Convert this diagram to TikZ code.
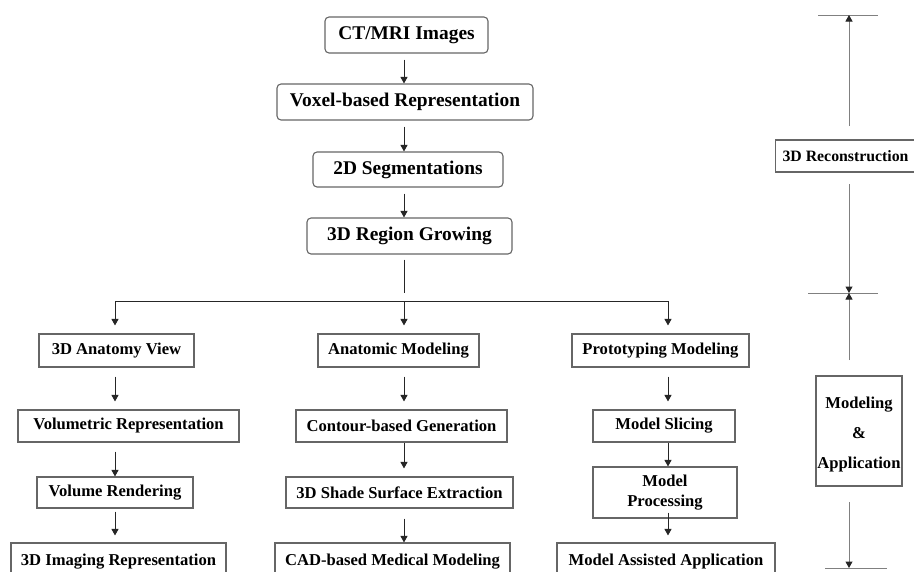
\documentclass[tikz,border=0pt]{standalone}
\usepackage{fontspec}
\setmainfont{Liberation Serif}
\usetikzlibrary{arrows.meta}
\begin{document}
\begin{tikzpicture}[x=1pt,y=-1pt,
  box/.style={draw=black!60, line width=1.1pt, inner sep=0pt, font=\bfseries\fontsize{16.6}{20}\selectfont, align=center},
  topbox/.style={box, rounded corners=4pt, font=\bfseries\fontsize{19.4}{22}\selectfont},
  flow/.style={draw=black!85, line width=1pt, -{Triangle[width=7pt,length=6.5pt]}},
  bus/.style={draw=black!85, line width=1pt},
  span/.style={draw=black!50, line width=1pt, -{Triangle[width=7pt,length=6.5pt,color=black!85]}},
  tick/.style={draw=black!50, line width=1pt}]
\path[use as bounding box, clip] (0,0) rectangle (914,571);
\fill[white] (0,0) rectangle (914,571);

% column axes for the connectors
\coordinate (spine) at (404,0);
\coordinate (colA) at (115,0);
\coordinate (colB) at (404,0);
\coordinate (colC) at (668,0);

% main pipeline
\node[topbox, minimum width=163pt, minimum height=36pt] (ct)    at (406.5,35)  {CT/MRI Images};
\node[topbox, minimum width=256pt, minimum height=36pt] (voxel) at (405,102)   {Voxel-based Representation};
\node[topbox, minimum width=190pt, minimum height=35pt] (seg)   at (408,169.5) {2D Segmentations};
\node[topbox, minimum width=205pt, minimum height=36pt] (grow)  at (409.5,236) {3D Region Growing};

\draw[flow, shorten <=6pt] (ct.south -| spine) -- (voxel.north -| spine);
\draw[flow, shorten <=6pt] (voxel.south -| spine) -- (seg.north -| spine);
\draw[flow, shorten <=6pt] (seg.south -| spine) -- (grow.north -| spine);

% branching bus
\coordinate (join) at (404,293);
\coordinate (busA) at (115,301);
\coordinate (busB) at (404,301);
\coordinate (busC) at (668,301);
\draw[bus, shorten <=5pt] (grow.south -| spine) -- (join);
\draw[bus] (busA) -- (busC);

% branch rows
\node[box, minimum width=155pt, minimum height=33pt] (a1) at (116.5,350.5) {3D Anatomy View};
\node[box, minimum width=161pt, minimum height=33pt] (b1) at (398.5,350.5) {Anatomic Modeling};
\node[box, minimum width=177pt, minimum height=33pt] (c1) at (660.5,350.5) {Prototyping Modeling};

\node[box, minimum width=221pt, minimum height=32pt] (a2) at (128.5,426) {Volumetric Representation};
\node[box, minimum width=211pt, minimum height=32pt] (b2) at (401.5,426) {Contour-based Generation};
\node[box, minimum width=142pt, minimum height=32pt] (c2) at (664,426)   {Model Slicing};

\node[box, minimum width=156pt, minimum height=31pt] (a3) at (115,492.5)   {Volume Rendering};
\node[box, minimum width=227pt, minimum height=31pt] (b3) at (399.5,492.5) {3D Shade Surface Extraction};
\node[box, minimum width=144pt, minimum height=51pt] (c3) at (665,492.5)   {Model\\Processing};

\node[box, minimum width=215pt, minimum height=37pt] (a4) at (118.5,561.5) {\raisebox{4pt}{3D Imaging Representation}};
\node[box, minimum width=235pt, minimum height=37pt] (b4) at (392.5,561.5) {\raisebox{4pt}{CAD-based Medical Modeling}};
\node[box, minimum width=218pt, minimum height=37pt] (c4) at (666,561.5)   {\raisebox{4pt}{Model Assisted Application}};

% bus drops
\draw[flow, shorten >=8pt] (busA) -- (a1.north -| colA);
\draw[flow, shorten >=8pt] (busB) -- (b1.north -| colB);
\draw[flow, shorten >=8pt] (busC) -- (c1.north -| colC);

% column A
\draw[flow, shorten <=9pt, shorten >=8pt] (a1.south -| colA) -- (a2.north -| colA);
\draw[flow, shorten <=9pt] (a2.south -| colA) -- (a3.north -| colA);
\draw[flow, shorten <=3pt, shorten >=7pt] (a3.south -| colA) -- (a4.north -| colA);
% column B
\draw[flow, shorten <=9pt, shorten >=8pt] (b1.south -| colB) -- (b2.north -| colB);
\draw[flow, shorten >=8pt] (b2.south -| colB) -- (b3.north -| colB);
\draw[flow, shorten <=10pt] (b3.south -| colB) -- (b4.north -| colB);
% column C
\draw[flow, shorten <=9pt, shorten >=8pt] (c1.south -| colC) -- (c2.north -| colC);
\draw[flow] (c2.south -| colC) -- (c3.north -| colC);
\draw[flow, shorten <=-6pt, shorten >=7pt] (c3.south -| colC) -- (c4.north -| colC);

% stage brackets on the right
\coordinate (t1L) at (818,15);  \coordinate (t1R) at (878,15);
\coordinate (t2L) at (808,293); \coordinate (t2R) at (878,293);
\coordinate (t3L) at (825,568); \coordinate (t3R) at (887,568);
\coordinate (r1a) at (849,126); \coordinate (r1b) at (849,15);
\coordinate (r2a) at (849,184); \coordinate (r2b) at (849,293);
\coordinate (r3a) at (849,360); \coordinate (r3b) at (849,293);
\coordinate (r4a) at (849,502); \coordinate (r4b) at (849,568);

\draw[tick] (t1L) -- (t1R);
\draw[tick] (t2L) -- (t2R);
\draw[tick] (t3L) -- (t3R);

\node[box, anchor=west, inner xsep=7pt, minimum height=32pt, font=\bfseries\fontsize{15.8}{20}\selectfont] (recon) at (775,156) {3D Reconstruction\hspace{6pt}};
\node[box, minimum width=86pt, minimum height=110pt] (modapp) at (859,431) {};
\node[font=\bfseries\fontsize{16.6}{30}\selectfont, align=center, inner sep=0pt] (modtext) at ([yshift=-3.5pt]modapp.center) {Modeling\\\&\\Application};

\draw[span] (r1a) -- (r1b);
\draw[span] (r2a) -- (r2b);
\draw[span] (r3a) -- (r3b);
\draw[span] (r4a) -- (r4b);
\end{tikzpicture}
\end{document}
